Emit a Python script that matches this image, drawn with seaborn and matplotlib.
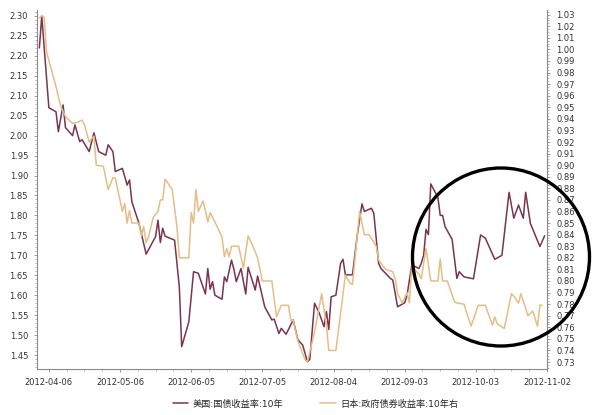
import matplotlib
matplotlib.use("Agg")
import matplotlib.pyplot as plt
import matplotlib.dates as mdates
from matplotlib.patches import Ellipse
from matplotlib.ticker import MultipleLocator, FixedLocator, FormatStrFormatter
import seaborn as sns
import pandas as pd
import numpy as np

# ---------------- data ----------------
us_dates = ["2012-04-02", "2012-04-03", "2012-04-06", "2012-04-09", "2012-04-10", "2012-04-12",
            "2012-04-13", "2012-04-16", "2012-04-17", "2012-04-19", "2012-04-20", "2012-04-23",
            "2012-04-25", "2012-04-27", "2012-04-30", "2012-05-01", "2012-05-03", "2012-05-04",
            "2012-05-07", "2012-05-09", "2012-05-10", "2012-05-11", "2012-05-14", "2012-05-17",
            "2012-05-21", "2012-05-22", "2012-05-23", "2012-05-24", "2012-05-25", "2012-05-29",
            "2012-05-31", "2012-06-01", "2012-06-04", "2012-06-06", "2012-06-08", "2012-06-11",
            "2012-06-12", "2012-06-13", "2012-06-14", "2012-06-15", "2012-06-18", "2012-06-19",
            "2012-06-20", "2012-06-22", "2012-06-23", "2012-06-24", "2012-06-26", "2012-06-28",
            "2012-06-29", "2012-07-02", "2012-07-03", "2012-07-06", "2012-07-09", "2012-07-10",
            "2012-07-12", "2012-07-13", "2012-07-15", "2012-07-18", "2012-07-20", "2012-07-22",
            "2012-07-24", "2012-07-25", "2012-07-27", "2012-07-29", "2012-07-31", "2012-08-01",
            "2012-08-02", "2012-08-03", "2012-08-05", "2012-08-07", "2012-08-08", "2012-08-09",
            "2012-08-12", "2012-08-14", "2012-08-16", "2012-08-17", "2012-08-20", "2012-08-21",
            "2012-08-23", "2012-08-24", "2012-08-28", "2012-08-29", "2012-08-31", "2012-09-03",
            "2012-09-04", "2012-09-06", "2012-09-09", "2012-09-10", "2012-09-11", "2012-09-12",
            "2012-09-13", "2012-09-14", "2012-09-17", "2012-09-18", "2012-09-19", "2012-09-20",
            "2012-09-23", "2012-09-25", "2012-09-26", "2012-09-28", "2012-10-02", "2012-10-05",
            "2012-10-07", "2012-10-11", "2012-10-14", "2012-10-17", "2012-10-19", "2012-10-21",
            "2012-10-23", "2012-10-24", "2012-10-26", "2012-10-30", "2012-11-01"]
us_values = [2.22, 2.30, 2.07, 2.06, 2.01, 2.077,
             2.02, 2.00, 2.027, 1.985, 1.99, 1.96,
             2.007, 1.96, 1.951, 1.977, 1.96, 1.91,
             1.918, 1.876, 1.889, 1.834, 1.78, 1.703,
             1.747, 1.788, 1.732, 1.768, 1.748, 1.738,
             1.621, 1.471, 1.533, 1.659, 1.655, 1.603,
             1.667, 1.615, 1.634, 1.60, 1.59, 1.646,
             1.634, 1.688, 1.665, 1.634, 1.667, 1.603,
             1.67, 1.613, 1.648, 1.571, 1.538, 1.54,
             1.504, 1.517, 1.502, 1.538, 1.488, 1.475,
             1.433, 1.439, 1.58, 1.555, 1.521, 1.559,
             1.514, 1.596, 1.60, 1.68, 1.69, 1.651,
             1.651, 1.75, 1.829, 1.81, 1.818, 1.805,
             1.68, 1.667, 1.642, 1.638, 1.571, 1.581,
             1.60, 1.676, 1.667, 1.68, 1.70, 1.765,
             1.752, 1.879, 1.845, 1.80, 1.80, 1.772,
             1.74, 1.642, 1.659, 1.646, 1.641, 1.751,
             1.743, 1.69, 1.70, 1.858, 1.793, 1.826,
             1.793, 1.858, 1.78, 1.722, 1.749]

jp_dates = ["2012-04-02", "2012-04-03", "2012-04-04", "2012-04-05", "2012-04-09", "2012-04-11",
            "2012-04-13", "2012-04-16", "2012-04-18", "2012-04-20", "2012-04-21", "2012-04-23",
            "2012-04-25", "2012-04-26", "2012-04-29", "2012-05-01", "2012-05-03", "2012-05-04",
            "2012-05-07", "2012-05-08", "2012-05-09", "2012-05-10", "2012-05-11", "2012-05-14",
            "2012-05-15", "2012-05-16", "2012-05-17", "2012-05-18", "2012-05-20", "2012-05-22",
            "2012-05-23", "2012-05-24", "2012-05-25", "2012-05-28", "2012-05-30", "2012-05-31",
            "2012-06-04", "2012-06-05", "2012-06-06", "2012-06-07", "2012-06-08", "2012-06-10",
            "2012-06-11", "2012-06-12", "2012-06-13", "2012-06-15", "2012-06-18", "2012-06-19",
            "2012-06-20", "2012-06-21", "2012-06-22", "2012-06-25", "2012-06-27", "2012-06-29",
            "2012-07-01", "2012-07-03", "2012-07-05", "2012-07-09", "2012-07-11", "2012-07-13",
            "2012-07-16", "2012-07-17", "2012-07-18", "2012-07-20", "2012-07-23", "2012-07-24",
            "2012-07-27", "2012-07-30", "2012-08-01", "2012-08-02", "2012-08-05", "2012-08-09",
            "2012-08-11", "2012-08-12", "2012-08-15", "2012-08-16", "2012-08-17", "2012-08-19",
            "2012-08-22", "2012-08-23", "2012-08-26", "2012-08-29", "2012-08-30", "2012-08-31",
            "2012-09-02", "2012-09-04", "2012-09-05", "2012-09-06", "2012-09-08", "2012-09-09",
            "2012-09-10", "2012-09-12", "2012-09-14", "2012-09-17", "2012-09-18", "2012-09-19",
            "2012-09-21", "2012-09-24", "2012-09-25", "2012-09-28", "2012-10-01", "2012-10-04",
            "2012-10-07", "2012-10-10", "2012-10-11", "2012-10-12", "2012-10-15", "2012-10-18",
            "2012-10-19", "2012-10-21", "2012-10-22", "2012-10-25", "2012-10-27", "2012-10-29",
            "2012-10-30", "2012-10-31"]
jp_values = [1.027, 1.029, 1.028, 0.998, 0.968, 0.951,
             0.942, 0.936, 0.937, 0.939, 0.935, 0.920,
             0.925, 0.900, 0.899, 0.879, 0.889, 0.889,
             0.860, 0.867, 0.850, 0.861, 0.850, 0.850,
             0.839, 0.847, 0.833, 0.838, 0.855, 0.860,
             0.870, 0.870, 0.888, 0.879, 0.847, 0.820,
             0.820, 0.859, 0.850, 0.879, 0.860, 0.869,
             0.861, 0.851, 0.859, 0.851, 0.838, 0.821,
             0.828, 0.821, 0.830, 0.830, 0.811, 0.839,
             0.830, 0.820, 0.800, 0.800, 0.769, 0.779,
             0.779, 0.766, 0.766, 0.748, 0.732, 0.730,
             0.756, 0.789, 0.762, 0.740, 0.740, 0.805,
             0.798, 0.797, 0.860, 0.850, 0.840, 0.840,
             0.830, 0.818, 0.810, 0.808, 0.802, 0.789,
             0.781, 0.790, 0.781, 0.814, 0.808, 0.806,
             0.802, 0.828, 0.800, 0.800, 0.819, 0.800,
             0.800, 0.782, 0.781, 0.780, 0.761, 0.779,
             0.779, 0.762, 0.769, 0.763, 0.759, 0.789,
             0.787, 0.781, 0.789, 0.770, 0.774, 0.761,
             0.779, 0.779]

x_ticks = ["2012-04-06", "2012-05-06", "2012-06-05", "2012-07-05",
           "2012-08-04", "2012-09-03", "2012-10-03", "2012-11-02"]
us_label = "美国:国债收益率:10年"
jp_label = "日本:政府债券收益率:10年右"

us_color = "#7a3450"
jp_color = "#e6bd85"

# ---------------- figure ----------------
sns.set_theme(style="ticks")
plt.rcParams["font.family"] = ["DejaVu Sans", "Noto Sans CJK SC"]

fig = plt.figure(figsize=(5.95, 4.15), dpi=100)
ax = fig.add_axes([37 / 595, 1 - 369 / 415, 510 / 595, 359 / 415])
ax2 = ax.twinx()

us_df = pd.DataFrame({"date": pd.to_datetime(us_dates), "value": us_values})
jp_df = pd.DataFrame({"date": pd.to_datetime(jp_dates), "value": jp_values})

sns.lineplot(data=us_df, x="date", y="value", ax=ax, color=us_color, linewidth=1.1,
             label=us_label, legend=False)
sns.lineplot(data=jp_df, x="date", y="value", ax=ax2, color=jp_color, linewidth=1.1,
             label=jp_label, legend=False)

ax.set_xlim(pd.Timestamp("2012-04-01"), pd.Timestamp("2012-11-02"))
ax.set_ylim(1.415, 2.315)
ax2.set_ylim(0.724, 1.034)

major = [mdates.date2num(pd.Timestamp(d)) for d in x_ticks]
minor = [m + 7.5 * k for m in major[:-1] for k in range(1, 4)]
ax.xaxis.set_major_locator(FixedLocator(major))
ax.xaxis.set_minor_locator(FixedLocator(minor))
ax.xaxis.set_major_formatter(mdates.DateFormatter("%Y-%m-%d"))

ax.yaxis.set_major_locator(MultipleLocator(0.05))
ax.yaxis.set_minor_locator(MultipleLocator(0.01))
ax.yaxis.set_major_formatter(FormatStrFormatter("%.2f"))
ax2.yaxis.set_major_locator(MultipleLocator(0.01))
ax2.yaxis.set_minor_locator(MultipleLocator(0.0025))
ax2.yaxis.set_major_formatter(FormatStrFormatter("%.2f"))

for a in (ax, ax2):
    a.set_xlabel("")
    a.set_ylabel("")
    a.spines["top"].set_visible(False)
    for s in ("left", "right", "bottom"):
        a.spines[s].set_color("#8a8a8a")
        a.spines[s].set_linewidth(0.8)
    a.tick_params(axis="both", which="major", labelsize=6, length=2.5, width=0.6,
                  color="#8a8a8a", labelcolor="#333333", pad=4)
    a.tick_params(axis="both", which="minor", length=1.5, width=0.5, color="#9a9a9a")
ax.spines["right"].set_visible(False)
ax2.spines["left"].set_visible(False)
ax2.spines["bottom"].set_visible(False)

# legend
h1, l1 = ax.get_legend_handles_labels()
h2, l2 = ax2.get_legend_handles_labels()
fig.legend(h1 + h2, l1 + l2, loc="center", bbox_to_anchor=(0.53, 1 - 404 / 415),
           ncol=2, frameon=False, fontsize=6.6, handlelength=1.7, columnspacing=4.0,
           handletextpad=0.5)

# highlight ellipse
ell = Ellipse((501 / 595, 1 - 257 / 415), 177 / 595, 178 / 415, fill=False,
              edgecolor="black", linewidth=2.4, transform=fig.transFigure, clip_on=False)
fig.patches.append(ell)

fig.savefig("out.png", dpi=100)
